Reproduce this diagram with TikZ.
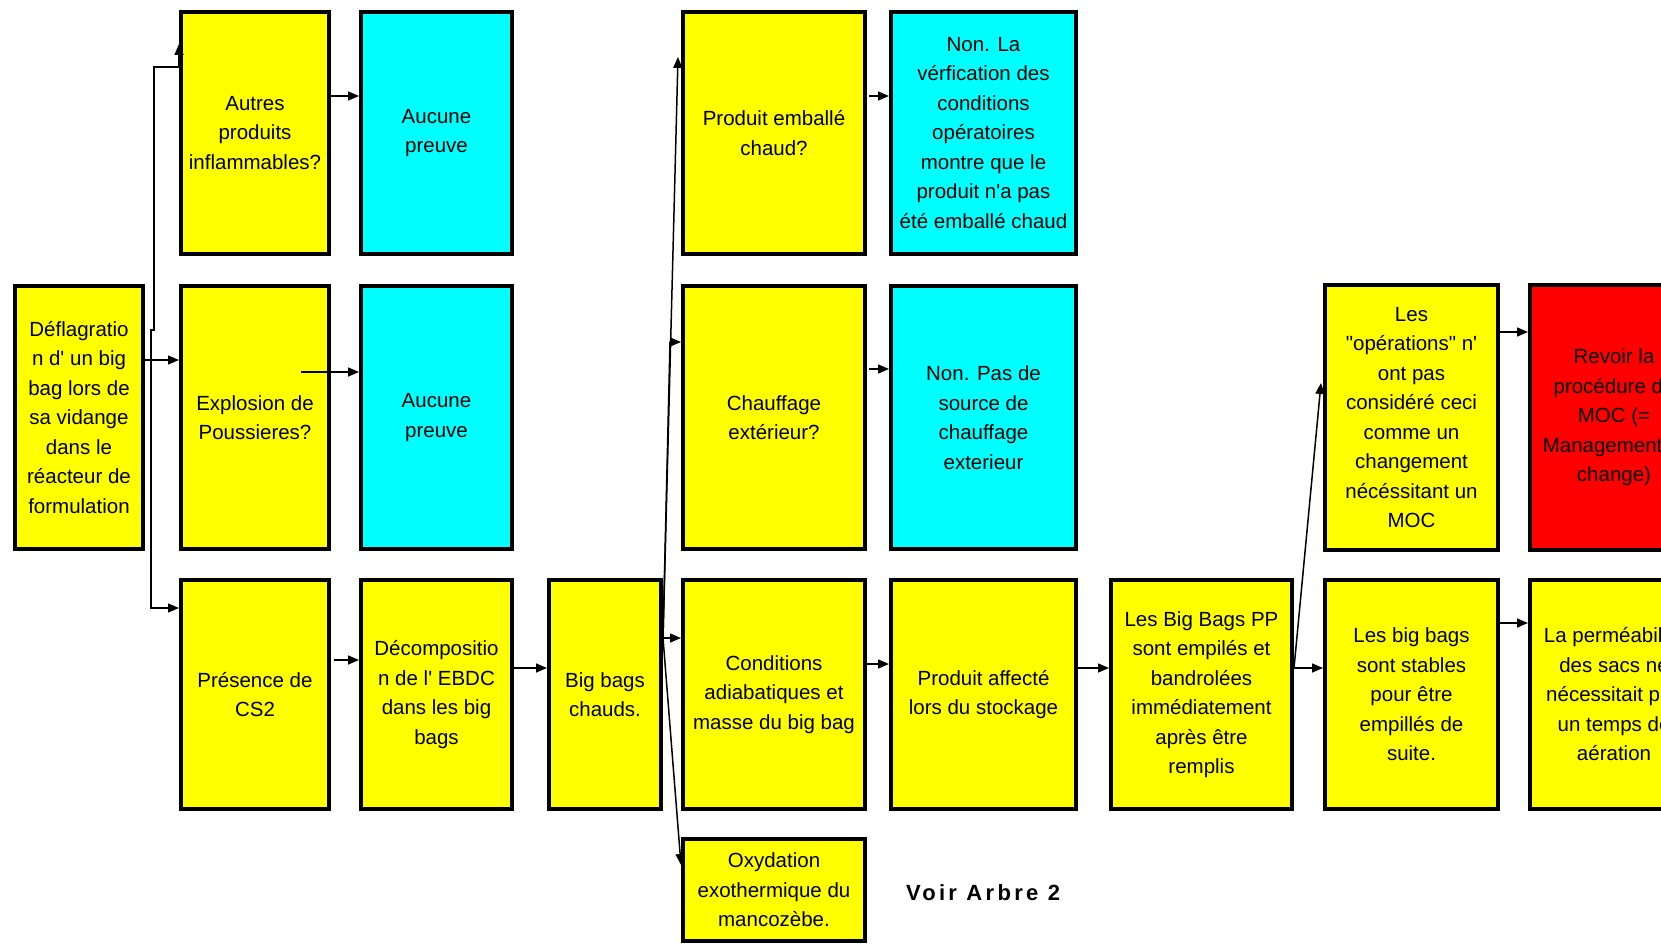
\documentclass[tikz,border=0pt]{standalone}
\usepackage{fontspec}
\setmainfont{Liberation Sans}[Ligatures=TeXOff]
\usetikzlibrary{arrows.meta,calc}
\definecolor{boxyellow}{RGB}{255,255,0}
\definecolor{boxcyan}{RGB}{0,255,255}
\definecolor{boxred}{RGB}{255,0,0}
\begin{document}
\begin{tikzpicture}[x=1pt,y=-1pt,
  box/.style={draw=black, line width=4pt, inner sep=0pt, align=center, text=black,
    font=\fontsize{20.5}{29.5}\selectfont},
  yb/.style={box, fill=boxyellow},
  cb/.style={box, fill=boxcyan},
  rb/.style={box, fill=boxred},
  conn/.style={draw=black, line width=1.5pt, -{Triangle[length=11pt,width=9pt]}}]
\useasboundingbox (0,0) rectangle (1661,944);
\clip (0,0) rectangle (1661,944);
\fill[white] (0,0) rectangle (1661,944);

% nodes
\node[yb, minimum width=128pt, minimum height=263pt] (defl) at (79,417.5) {Déflagratio\\n d' un big\\bag lors de\\sa vidange\\dans le\\réacteur de\\formulation};
\node[yb, minimum width=148pt, minimum height=242pt] (autres) at (255,133) {Autres\\produits\\inflammables?};
\node[cb, minimum width=151pt, minimum height=242pt] (auc1) at (436.5,133) {Aucune\\preuve};
\node[yb, minimum width=148pt, minimum height=263pt] (explo) at (255,417.5) {Explosion de\\Poussieres?};
\node[cb, minimum width=151pt, minimum height=263pt] (auc2) at (436.5,417.5) {Aucune\\preuve};
\node[yb, minimum width=148pt, minimum height=229pt] (pres) at (255,694.5) {Présence de\\CS2};
\node[yb, minimum width=151pt, minimum height=229pt] (decomp) at (436.5,694.5) {Décompositio\\n de l' EBDC\\dans les big\\bags};
\node[yb, minimum width=112pt, minimum height=229pt] (bbc) at (605,694.5) {Big bags\\chauds.};
\node[yb, minimum width=182pt, minimum height=242pt] (emb) at (774,133) {Produit emballé\\chaud?};
\node[cb, minimum width=185pt, minimum height=242pt] (nonla) at (983.5,133) {Non. La\\vérfication des\\conditions\\opératoires\\montre que le\\produit n'a pas\\été emballé chaud};
\node[yb, minimum width=182pt, minimum height=263pt] (chauf) at (774,417.5) {Chauffage\\extérieur?};
\node[cb, minimum width=185pt, minimum height=263pt] (nonpas) at (983.5,417.5) {Non. Pas de\\source de\\chauffage\\exterieur};
\node[yb, minimum width=182pt, minimum height=229pt] (cond) at (774,694.5) {Conditions\\adiabatiques et\\masse du big bag};
\node[yb, minimum width=185pt, minimum height=229pt] (aff) at (983.5,694.5) {Produit affecté\\lors du stockage};
\node[yb, minimum width=182pt, minimum height=102pt] (oxy) at (774,890) {Oxydation\\exothermique du\\mancozèbe.};
\node[yb, minimum width=181pt, minimum height=229pt] (bbpp) at (1201.5,694.5) {Les Big Bags PP\\sont empilés et\\bandrolées\\immédiatement\\après être\\remplis};
\node[yb, minimum width=173pt, minimum height=265pt] (ops) at (1411.5,417.5) {Les\\"opérations" n'\\ont pas\\considéré ceci\\comme un\\changement\\nécéssitant un\\MOC};
\node[yb, minimum width=173pt, minimum height=229pt] (stab) at (1411.5,694.5) {Les big bags\\sont stables\\pour être\\empillés de\\suite.};
\node[rb, minimum width=168pt, minimum height=265pt] (rev) at (1614,417.5) {Revoir la\\procédure de\\MOC (=\\Management of\\change)};
\node[yb, minimum width=168pt, minimum height=229pt] (perm) at (1614,694.5) {La perméabilité\\des sacs ne\\nécessitait pas\\un temps de\\aération};
\node[font={\fontsize{22}{26}\selectfont\bfseries\addfontfeatures{LetterSpace=15}}] (voir) at (983,893) {Voir Arbre 2};

% connectors from Deflagration
\draw[conn] ([yshift=57.5pt]defl.east) -- ([yshift=57.5pt]explo.west);
\draw[conn] ([yshift=57.5pt]defl.east) -- ++(6,0) -- ++(0,-30) -- ++(3,0)
  |- ([yshift=66pt]autres.west) -- ([yshift=89pt]autres.west);
\draw[conn] ([yshift=57.5pt]defl.east) -- ++(6,0) |- ([yshift=86.5pt]pres.west);

\draw[conn] ([yshift=37pt]autres.east) -- ([yshift=37pt]auc1.west);
\draw[conn] ([xshift=-30pt,yshift=45.5pt]explo.east) -- ([yshift=45.5pt]auc2.west);
\draw[conn] ([xshift=3pt,yshift=34.5pt]pres.east) -- ([yshift=34.5pt]decomp.west);
\draw[conn] ([yshift=26.5pt]decomp.east) -- ([yshift=26.5pt]bbc.west);

% fan from Big bags chauds
\coordinate (s) at ([yshift=56.5pt]bbc.east);
\draw[conn] (s) -- ([xshift=-3pt,yshift=76pt]emb.west);
\draw[conn] (s) -- ([xshift=-11pt,yshift=75.5pt]chauf.west) -- ([yshift=75.5pt]chauf.west);
\draw[conn] (s) -- ([yshift=56.5pt]cond.west);
\draw[conn] (s) -- ([yshift=25pt]oxy.west);

\draw[conn] ([xshift=2pt,yshift=37pt]emb.east) -- ([yshift=37pt]nonla.west);
\draw[conn] ([xshift=2pt,yshift=48.5pt]chauf.east) -- ([yshift=48.5pt]nonpas.west);
\draw[conn] ([yshift=30.5pt]cond.east) -- ([yshift=30.5pt]aff.west);
\draw[conn] ([yshift=26.5pt]aff.east) -- ([yshift=26.5pt]bbpp.west);
\draw[conn] ([yshift=26.5pt]bbpp.east) -- ([yshift=26.5pt]stab.west);
\draw[conn] ([yshift=26.5pt]bbpp.east) -- ([xshift=-2pt,yshift=34.5pt]ops.west);
\draw[conn] ([yshift=85.5pt]ops.east) -- ([yshift=85.5pt]rev.west);
\draw[conn] ([yshift=71.5pt]stab.east) -- ([yshift=71.5pt]perm.west);
\end{tikzpicture}
\end{document}
